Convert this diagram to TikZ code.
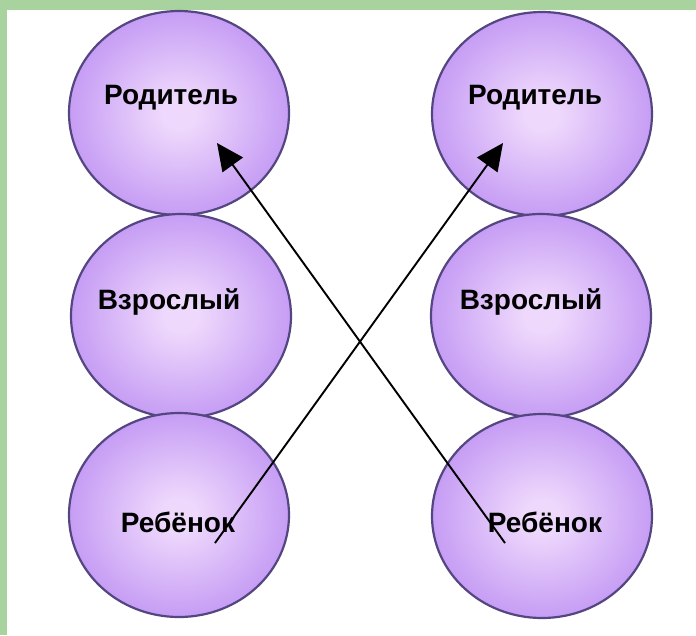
\documentclass[tikz,border=0pt]{standalone}
\usepackage{fontspec}
\setmainfont{Liberation Sans}
\usetikzlibrary{shapes.geometric,arrows.meta}
\definecolor{bubin}{RGB}{238,216,252}
\definecolor{bubmid}{RGB}{196,154,244}
\definecolor{bubout}{RGB}{170,122,234}
\definecolor{bubline}{RGB}{84,70,128}
\definecolor{leaf}{RGB}{168,210,158}
\pgfdeclareradialshading{bubble}{\pgfpoint{0bp}{0bp}}{color(0bp)=(bubin); color(4bp)=(bubin); color(26bp)=(bubmid); color(44bp)=(bubout); color(50bp)=(bubout)}
\tikzset{
  bub/.style={ellipse, shading=bubble, draw=bubline, line width=2.2pt,
    minimum width=220pt, minimum height=204pt, inner sep=0pt},
  word/.style={font=\fontsize{28}{32}\selectfont\bfseries, text=black, inner sep=0pt},
  link/.style={-{Triangle[length=27pt,width=25pt]}, line width=1.9pt, black}
}
\begin{document}
\begin{tikzpicture}[x=1pt,y=-1pt]
\useasboundingbox (0,0) rectangle (696,635);
\fill[leaf] (0,0) rectangle (696,635);
\fill[white] (7,10) rectangle (696,635);
% left column
\node[bub] (l1) at (179,113) {};
\node[bub] (l2) at (181,316) {};
\node[bub] (l3) at (179,515) {};
% right column
\node[bub] (r1) at (542,114) {};
\node[bub] (r2) at (541,316) {};
\node[bub] (r3) at (542,516) {};
% texts
\node[word] (t1) at (171,98) {Родитель};
\node[word] (t2) at (535,98) {Родитель};
\node[word] (t3) at (169,302) {Взрослый};
\node[word] (t4) at (531,302) {Взрослый};
\node[word] (t5) at (178,522) {Ребёнок};
\node[word] (t6) at (545,522) {Ребёнок};
% connector ends
\coordinate (a1) at (505,543);
\coordinate (b1) at (217,143);
\coordinate (a2) at (215,543);
\coordinate (b2) at (503,143);
\draw[link] (a1) -- (b1);
\draw[link] (a2) -- (b2);
\end{tikzpicture}
\end{document}
